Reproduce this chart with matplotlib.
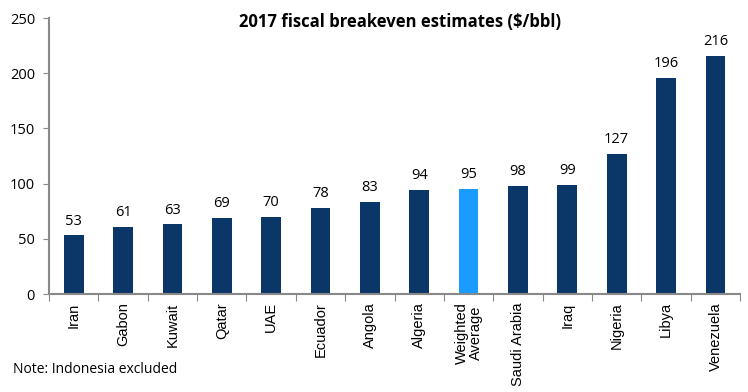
import matplotlib.pyplot as plt

countries = ['Iran', 'Gabon', 'Kuwait', 'Qatar', 'UAE', 'Ecuador', 'Angola', 'Algeria',
             'Weighted\nAverage', 'Saudi Arabia', 'Iraq', 'Nigeria', 'Libya', 'Venezuela']
breakeven = [53, 61, 63, 69, 70, 78, 83, 94, 95, 98, 99, 127, 196, 216]
highlight = 'Weighted\nAverage'

plt.rcParams['font.family'] = ['Open Sans', 'DejaVu Sans']

fig = plt.figure(figsize=(7.48, 3.92), dpi=100)
ax = fig.add_axes([0.0655, 0.25, 0.924, 0.704])

colors = ['#1a9bff' if c == highlight else '#0b3668' for c in countries]
x = range(len(countries))
bars = ax.bar(x, breakeven, width=0.4, color=colors)

for xi, v in zip(x, breakeven):
    ax.annotate(str(v), (xi, v), xytext=(0, 5), textcoords='offset points',
                ha='center', va='bottom', fontsize=10.5)

ax.set_xlim(-0.5, len(countries) - 0.5)
ax.set_ylim(0, 250)
ax.set_yticks(range(0, 251, 50))
ax.tick_params(axis='y', labelsize=10.5, length=4, color='#888888', pad=6)

# category labels between boundary ticks
ax.set_xticks([i + 0.5 for i in range(-1, len(countries))])
ax.set_xticklabels([])
ax.set_xticks(list(x), minor=True)
ax.set_xticklabels(countries, minor=True, rotation=90, fontsize=10.5,
                   family=['Liberation Sans', 'DejaVu Sans'], va='top', linespacing=1.0)
ax.tick_params(axis='x', which='major', length=5, color='#888888')
ax.tick_params(axis='x', which='minor', length=0, pad=6)

for side in ['top', 'right']:
    ax.spines[side].set_visible(False)
for side in ['left', 'bottom']:
    ax.spines[side].set_color('#888888')
    ax.spines[side].set_linewidth(1.5)

fig.text(0.535, 0.945, '2017 fiscal breakeven estimates ($/bbl)', ha='center', va='center',
         fontsize=12, fontweight='bold')
fig.text(0.018, 0.057, 'Note: Indonesia excluded', ha='left', va='center', fontsize=10)

fig.savefig('out.png', dpi=100)
